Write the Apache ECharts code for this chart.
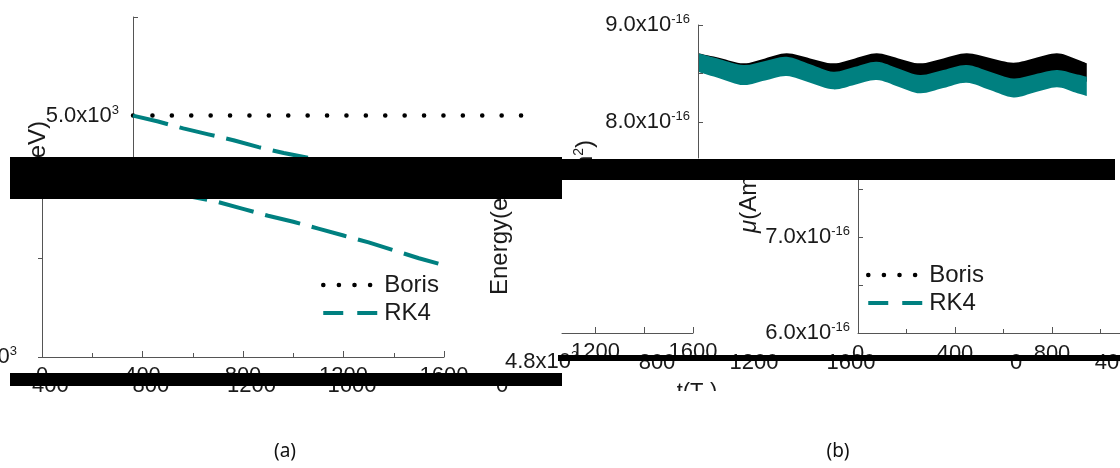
<!DOCTYPE html>
<html><head><meta charset="utf-8">
<script src="https://cdn.jsdelivr.net/npm/echarts@6/dist/echarts.min.js"></script>
<style>html,body{margin:0;padding:0;background:#fff}#c{width:1120px;height:468px}</style>
</head><body><div id="c"></div>
<script>
// ---- data (a): energy in eV vs t (T_c)
const tEnergy   = [0,100,200,300,400,500,600,700,800,900,1000,1100,1200,1300,1400,1500,1600];
const borisEnergy = [5000,5000,5000,5000,5000,5000,5000,5000,5000,5000,5000,5000,5000,5000,5000,5000,5000];
const rk4Energy   = [5000,4994,4987,4981,4975,4968,4962,4957,4950,4943,4937,4930,4923,4916,4908,4900,4893];
// ---- data (b): magnetic moment, units of 1e-16 A m^2 (upper / lower edge of each band)
const tMu       = [0,90,186,275,364,460,555,644,733,822,911,1006,1102,1198,1294,1383,1472,1540,1595];
const borisHigh = [8.708,8.660,8.605,8.656,8.708,8.656,8.605,8.656,8.708,8.656,8.605,8.656,8.708,8.660,8.612,8.660,8.708,8.660,8.605];
const borisLow  = [8.519,8.470,8.415,8.466,8.518,8.466,8.415,8.466,8.518,8.466,8.415,8.466,8.518,8.470,8.422,8.470,8.518,8.470,8.415];
const rk4High   = [8.708,8.648,8.588,8.630,8.673,8.596,8.519,8.570,8.622,8.553,8.485,8.536,8.588,8.519,8.450,8.493,8.536,8.500,8.467];
const rk4Low    = [8.519,8.450,8.381,8.428,8.474,8.405,8.337,8.385,8.433,8.365,8.296,8.350,8.405,8.330,8.254,8.306,8.358,8.310,8.268];
// ---- tick labels
const energyTicks = [4800, 4900, 5000, 5100];
const muTicks = [6, 6.5, 7, 7.5, 8, 8.5, 9];
const timeTicks = [0, 400, 800, 1200, 1600];
const legendNames = ['Boris', 'RK4'];

const FONT = 'Liberation Sans';
const AX = '#555';
const TXT = '#1a1a1a';
const TEAL = '#008080';

const pairs = (xs, ys) => xs.map((x, i) => [x, ys[i]]);
const rich = {
  b: {fontSize: 22, fontFamily: FONT, color: TXT, lineHeight: 24},
  s: {fontSize: 13, fontFamily: FONT, color: TXT, verticalAlign: 'top', lineHeight: 13}
};
const eFmt = v => '{b|' + (v / 1000).toFixed(1) + 'x10}{s|3}';
const mFmt = v => '{b|' + v.toFixed(1) + 'x10}{s|-16}';
const tFmt = v => String(v);
const axLine = {show: true, lineStyle: {color: AX, width: 1}};
const lbl = (extra) => Object.assign({fontSize: 22, fontFamily: FONT, color: TXT, formatter: tFmt}, extra);

const timeAxis = (gi, extra) => Object.assign({
  gridIndex: gi, type: 'value', min: 0, max: 1600, interval: 400,
  axisLine: axLine, splitLine: {show: false},
  axisTick: {show: true, inside: true, length: 6, lineStyle: {color: AX}},
  minorTick: {show: true, splitNumber: 2, length: 4, lineStyle: {color: AX}},
  axisLabel: lbl({margin: 8})
}, extra);
const hiddenX = (gi) => ({gridIndex: gi, type: 'value', min: 0, max: 1600, show: false});
const hiddenY = (gi) => ({gridIndex: gi, type: 'value', min: 0, max: 1, show: false});
const labelOnlyX = (gi, min, max, margin, vals) => ({
  gridIndex: gi, type: 'value', min: min, max: max, z: 25,
  axisLine: {show: false}, axisTick: {show: false}, splitLine: {show: false},
  axisLabel: lbl({margin: margin, customValues: vals})
});
const G = (left, top, width, height) => ({left, top, width, height, containLabel: false, outerBoundsMode: 'none'});

// smooth (Catmull-Rom) path segments through screen points
function splineSeg(pts) {
  let d = '';
  for (let i = 0; i < pts.length - 1; i++) {
    const p0 = pts[i - 1] || pts[i], p1 = pts[i], p2 = pts[i + 1], p3 = pts[i + 2] || p2;
    const c1 = [p1[0] + (p2[0] - p0[0]) / 6, p1[1] + (p2[1] - p0[1]) / 6];
    const c2 = [p2[0] - (p3[0] - p1[0]) / 6, p2[1] - (p3[1] - p1[1]) / 6];
    d += ' C' + c1.join(' ') + ' ' + c2.join(' ') + ' ' + p2.join(' ');
  }
  return d;
}
const bandSeries = (name, hi, lo, color, z) => ({
  type: 'custom', name: name, xAxisIndex: 2, yAxisIndex: 2, z: z, silent: true,
  data: [[tMu[0], hi[0]]],
  renderItem: function (params, api) {
    const up = tMu.map((t, i) => api.coord([t, hi[i]]));
    const dn = tMu.map((t, i) => api.coord([t, lo[i]])).reverse();
    const d = 'M' + up[0].join(' ') + splineSeg(up) + ' L' + dn[0].join(' ') + splineSeg(dn) + ' Z';
    return {type: 'path', shape: {pathData: d}, style: {fill: color, stroke: null}};
  }
});

const chart = echarts.init(document.getElementById('c'));
const lineSym = {type: 'line', symbol: 'none', smooth: false, silent: true};

const legendCommon = {
  orient: 'vertical', padding: 0, itemGap: 4, itemWidth: 56, itemHeight: 14, selectedMode: false,
  textStyle: {fontSize: 24, fontFamily: FONT, color: TXT, lineHeight: 24},
  data: [
    {name: legendNames[0], itemStyle: {opacity: 0}, lineStyle: {color: '#000', width: 4.5, type: [0.1, 15.5], cap: 'round'}},
    {name: legendNames[1], itemStyle: {opacity: 0}, lineStyle: {color: TEAL, width: 4, type: [20, 14]}}
  ]
};
const nameRich = {
  m: {fontSize: 24, fontFamily: FONT, fontStyle: 'italic', fill: TXT, lineHeight: 26},
  n: {fontSize: 24, fontFamily: FONT, fill: TXT, lineHeight: 26},
  s: {fontSize: 14, fontFamily: FONT, fill: TXT, verticalAlign: 'top', lineHeight: 14}
};

const option = {
  animation: false,
  backgroundColor: '#fff',
  grid: [
    G(133, 17, 402, 140),
    G(42, 198, 402, 159),
    G(698, 25, 390, 133),
    G(858, 180, 388, 153),
    G(0, 300, 352, 70),
    G(562, 250, 131, 83),
    G(657, 250, 194, 92),
    G(1016, 250, 388, 92)
  ],
  xAxis: [
    hiddenX(0),
    timeAxis(1, {z: 3}),
    hiddenX(2),
    timeAxis(3, {axisLabel: lbl({margin: 10})}),
    labelOnlyX(4, 200, 1600, 5, timeTicks.slice(1)),
    {gridIndex: 5, type: 'value', min: 1063, max: 1600, axisLine: axLine, splitLine: {show: false},
     axisTick: {show: true, inside: true, length: 6, lineStyle: {color: AX}, customValues: [1200, 1400, 1600]},
     axisLabel: lbl({margin: 8, customValues: [1200, 1600]})},
    labelOnlyX(6, 800, 1600, 10, timeTicks.slice(2)),
    labelOnlyX(7, 0, 1600, 10, timeTicks.slice(0, 3))
  ],
  yAxis: [
    {gridIndex: 0, type: 'value', min: 4958, max: 5100, axisLine: axLine, splitLine: {show: false},
     axisTick: {show: true, inside: true, length: 5, lineStyle: {color: AX}, customValues: energyTicks.slice(2)},
     axisLabel: {margin: 14, customValues: [energyTicks[2]], formatter: eFmt, rich: rich}},
    {gridIndex: 1, type: 'value', min: 4800, max: 4961, z: 3, axisLine: axLine, splitLine: {show: false},
     axisTick: {show: true, inside: false, length: 4, lineStyle: {color: AX}, customValues: energyTicks.slice(0, 2)},
     axisLabel: {margin: 25, customValues: [energyTicks[0]], formatter: eFmt, rich: rich}},
    {gridIndex: 2, type: 'value', min: 7.63, max: 9.0, z: 5, axisLine: axLine, splitLine: {show: false},
     axisTick: {show: true, inside: true, length: 5, lineStyle: {color: AX}, customValues: muTicks.slice(4)},
     axisLabel: {margin: 8, customValues: [muTicks[4], muTicks[6]], formatter: mFmt, rich: rich}},
    {gridIndex: 3, type: 'value', min: 6, max: 7.6, axisLine: axLine, splitLine: {show: false},
     axisTick: {show: true, inside: true, length: 5, lineStyle: {color: AX}, customValues: muTicks.slice(0, 4)},
     axisLabel: {margin: 8, customValues: [muTicks[0], muTicks[2]], formatter: mFmt, rich: rich}},
    hiddenY(4), hiddenY(5), hiddenY(6), hiddenY(7)
  ],
  legend: [
    Object.assign({left: 321, top: 273}, legendCommon),
    Object.assign({left: 866, top: 263}, legendCommon)
  ],
  series: [
    Object.assign({}, lineSym, {name: 'Boris', xAxisIndex: 0, yAxisIndex: 0, z: 3, data: pairs(tEnergy, borisEnergy),
      lineStyle: {color: '#000', width: 4.5, type: [0.1, 19.3], cap: 'round'}}),
    Object.assign({}, lineSym, {name: 'RK4', xAxisIndex: 0, yAxisIndex: 0, z: 4, data: pairs(tEnergy, rk4Energy),
      lineStyle: {color: TEAL, width: 4, type: [36, 12]}}),
    Object.assign({}, lineSym, {name: 'RK4', xAxisIndex: 1, yAxisIndex: 1, z: 4, data: pairs(tEnergy, rk4Energy),
      lineStyle: {color: TEAL, width: 4, type: [36, 12], dashOffset: 10}}),
    bandSeries('Boris', borisHigh, borisLow, '#000', 2),
    bandSeries('RK4', rk4High, rk4Low, TEAL, 3)
  ],
  graphic: {elements: [
    // axis-name fragments
    {type: 'text', x: 38, y: 121, rotation: Math.PI / 2, z: 1,
     style: {text: 'Energy(eV)', fontSize: 24, fontFamily: FONT, fill: TXT, align: 'right', verticalAlign: 'middle'}},
    {type: 'text', x: 500, y: 295, rotation: Math.PI / 2, z: 1,
     style: {text: 'Energy(eV)', fontSize: 24, fontFamily: FONT, fill: TXT, align: 'left', verticalAlign: 'middle'}},
    {type: 'text', x: 585, y: 140, rotation: Math.PI / 2, z: 1,
     style: {text: '{m|μ}{n|(Am}{s|2}{n|)}', align: 'right', verticalAlign: 'middle', rich: nameRich}},
    {type: 'text', x: 749, y: 233, rotation: Math.PI / 2, z: 1,
     style: {text: '{m|μ}{n|(Am}{s|2}{n|)}', align: 'left', verticalAlign: 'middle', rich: nameRich}},
    // label fragments
    {type: 'text', x: 505, y: 362, z: 25,
     style: {text: '{b|4.8x10}{s|3}', align: 'left', verticalAlign: 'middle',
       rich: {b: {fontSize: 22, fontFamily: FONT, fill: TXT, lineHeight: 24},
              s: {fontSize: 13, fontFamily: FONT, fill: TXT, verticalAlign: 'top', lineHeight: 13}}}},
    {type: 'text', x: 502, y: 375, z: 1,
     style: {text: '0', fontSize: 22, fontFamily: FONT, fill: TXT, align: 'center', verticalAlign: 'top'}},
    {type: 'text', x: 697, y: 380, z: 1,
     style: {text: '{n|t(T}{c|c}{n|)}', align: 'center', verticalAlign: 'top',
       rich: {n: {fontSize: 22, fontFamily: FONT, fill: TXT, lineHeight: 24},
              c: {fontSize: 13, fontFamily: FONT, fill: TXT, verticalAlign: 'bottom', lineHeight: 13}}}},
    // white masks
    {type: 'rect', z: 2, shape: {x: 18, y: 199, width: 42, height: 50}, style: {fill: '#fff'}},
    {type: 'rect', z: 2, shape: {x: 568, y: 180, width: 34, height: 34}, style: {fill: '#fff'}},
    {type: 'rect', z: 2, shape: {x: 665, y: 391, width: 65, height: 20}, style: {fill: '#fff'}},
    {type: 'rect', z: 20, shape: {x: 558, y: 361, width: 562, height: 14}, style: {fill: '#fff'}},
    // black bars
    {type: 'rect', z: 30, shape: {x: 10, y: 157, width: 552, height: 42}, style: {fill: '#000'}},
    {type: 'rect', z: 30, shape: {x: 562, y: 159, width: 553, height: 21}, style: {fill: '#000'}},
    {type: 'rect', z: 30, shape: {x: 10, y: 373, width: 552, height: 13}, style: {fill: '#000'}},
    {type: 'rect', z: 30, shape: {x: 558, y: 355, width: 562, height: 6}, style: {fill: '#000'}},
    // captions
    {type: 'text', x: 285, y: 452, z: 1,
     style: {text: '(a)', fontSize: 19, fontFamily: 'Noto Sans', fill: '#111', align: 'center', verticalAlign: 'middle'}},
    {type: 'text', x: 838, y: 452, z: 1,
     style: {text: '(b)', fontSize: 19, fontFamily: 'Noto Sans', fill: '#111', align: 'center', verticalAlign: 'middle'}}
  ]}
};
chart.setOption(option);
</script>
</body></html>
